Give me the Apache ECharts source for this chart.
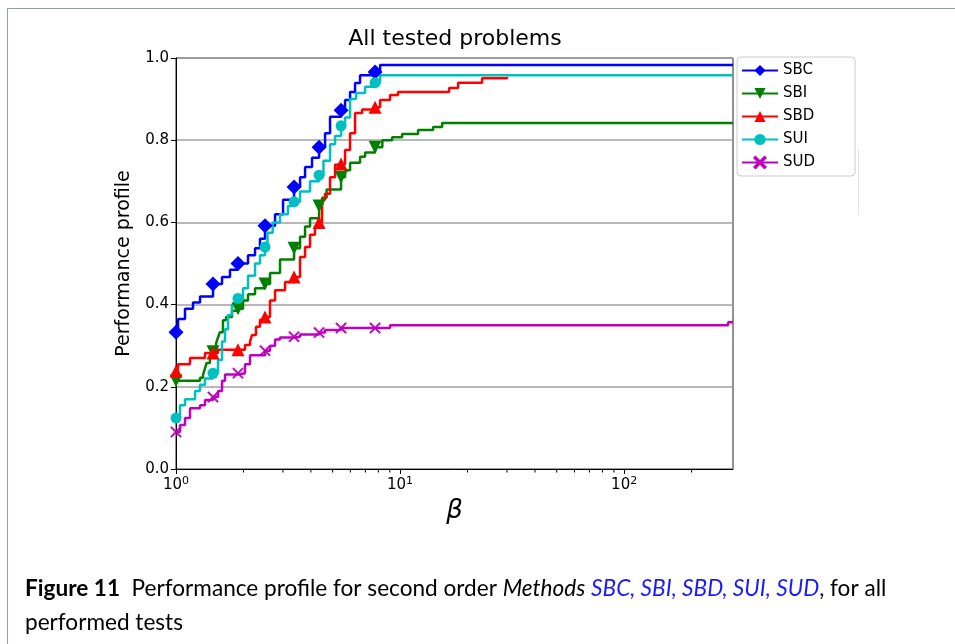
<!DOCTYPE html>
<html>
<head>
<meta charset="utf-8">
<script src="https://cdn.jsdelivr.net/npm/echarts@6/dist/echarts.min.js"></script>
<style>
  html, body { margin: 0; padding: 0; background: #fff; }
  #chart { width: 955px; height: 644px; }
</style>
</head>
<body>
<div id="chart"></div>
<script>
// performance profile data (beta = ratio, rho = fraction)
const methods = ["SBC", "SBI", "SBD", "SUI", "SUD"];
const colors = ["#0000ff", "#008000", "#ff0000", "#00bfbf", "#bf00bf"];
const xMax = 306;
// beta values where markers sit
const markBeta = [1, 1.463, 1.891, 2.496, 3.364, 4.35, 5.453, 7.734];

const sbcBeta = [1, 1.021, 1.097, 1.191, 1.28, 1.463, 1.605, 1.742, 1.891, 2.096, 2.253, 2.371, 2.496, 2.767, 3.004, 3.364, 3.578, 3.767, 4.047, 4.35, 4.626, 4.87, 5.453, 5.682, 5.982, 6.297, 6.629, 7.734, 8.143, xMax];
const sbcRho  = [0.333, 0.365, 0.39, 0.405, 0.42, 0.45, 0.467, 0.485, 0.5, 0.52, 0.537, 0.56, 0.592, 0.62, 0.655, 0.686, 0.71, 0.735, 0.757, 0.783, 0.817, 0.857, 0.873, 0.898, 0.917, 0.939, 0.958, 0.966, 0.983, 0.983];

const sbiBeta = [1, 1.28, 1.32, 1.347, 1.37, 1.418, 1.463, 1.51, 1.54, 1.57, 1.62, 1.672, 1.778, 1.891, 1.991, 2.096, 2.253, 2.496, 2.628, 2.912, 3.364, 3.578, 3.767, 3.965, 4.35, 4.486, 4.7, 5.453, 5.682, 5.982, 6.629, 6.98, 7.734, 8.333, 9.211, 10.21, 12.03, 14.04, 15.4, xMax];
const sbiRho  = [0.215, 0.222, 0.229, 0.245, 0.258, 0.272, 0.285, 0.306, 0.32, 0.333, 0.362, 0.37, 0.385, 0.39, 0.41, 0.425, 0.44, 0.45, 0.477, 0.51, 0.537, 0.565, 0.59, 0.61, 0.64, 0.66, 0.68, 0.71, 0.727, 0.745, 0.76, 0.77, 0.783, 0.8, 0.807, 0.815, 0.825, 0.832, 0.842, 0.842];

const sbdBeta = [1, 1.021, 1.155, 1.347, 1.463, 1.54, 1.891, 2.032, 2.14, 2.184, 2.276, 2.371, 2.496, 2.628, 2.767, 3.066, 3.364, 3.578, 3.767, 3.965, 4.17, 4.35, 4.486, 4.626, 4.87, 5.127, 5.453, 5.682, 5.982, 6.297, 6.767, 7.734, 8.143, 9.024, 9.797, 16.55, 18.15, 23.23, 30.04];
const sbdRho  = [0.238, 0.255, 0.27, 0.282, 0.282, 0.29, 0.29, 0.302, 0.31, 0.326, 0.346, 0.363, 0.37, 0.41, 0.435, 0.455, 0.467, 0.516, 0.54, 0.57, 0.59, 0.6, 0.655, 0.67, 0.71, 0.74, 0.742, 0.776, 0.817, 0.866, 0.875, 0.88, 0.898, 0.91, 0.917, 0.927, 0.94, 0.951, 0.954];

const suiBeta = [1, 1.042, 1.097, 1.216, 1.28, 1.347, 1.463, 1.54, 1.605, 1.655, 1.707, 1.778, 1.891, 1.991, 2.096, 2.253, 2.371, 2.496, 2.56, 2.7, 2.912, 3.16, 3.364, 3.578, 3.965, 4.35, 4.55, 4.87, 5.127, 5.453, 5.682, 5.982, 6.362, 6.98, 7.734, 8.143, xMax];
const suiRho  = [0.124, 0.155, 0.17, 0.19, 0.205, 0.22, 0.233, 0.265, 0.31, 0.34, 0.375, 0.4, 0.415, 0.44, 0.47, 0.5, 0.52, 0.54, 0.575, 0.6, 0.62, 0.64, 0.65, 0.675, 0.7, 0.715, 0.75, 0.79, 0.81, 0.835, 0.855, 0.9, 0.915, 0.93, 0.94, 0.958, 0.958];

const sudBeta = [1, 1.042, 1.097, 1.155, 1.28, 1.347, 1.463, 1.54, 1.605, 1.655, 1.891, 2.032, 2.14, 2.496, 2.628, 2.767, 2.912, 3.364, 3.578, 4.35, 4.626, 5.453, 7.734, 9.024, 291, xMax];
const sudRho  = [0.09, 0.107, 0.124, 0.148, 0.155, 0.168, 0.175, 0.19, 0.215, 0.23, 0.233, 0.255, 0.277, 0.288, 0.3, 0.315, 0.32, 0.322, 0.327, 0.332, 0.338, 0.343, 0.343, 0.35, 0.357, 0.357];

const xMinorTicks = [2, 3, 4, 5, 6, 7, 8, 9, 20, 30, 40, 50, 60, 70, 80, 90, 200];

const crossPath = "path://M0,1 L1,0 L5,4 L9,0 L10,1 L6,5 L10,9 L9,10 L5,6 L1,10 L0,9 L4,5 Z";
const symbols = ["diamond", "triangle", "triangle", "circle", crossPath];
const symbolSizes = [15, 13, 13, 11, 11];
const symbolRotates = [0, 180, 0, 0, 0];
const allBeta = [sbcBeta, sbiBeta, sbdBeta, suiBeta, sudBeta];
const allRho = [sbcRho, sbiRho, sbdRho, suiRho, sudRho];

function build(beta, rho) {
  return beta.map((b, i) => {
    const item = { value: [b, rho[i]] };
    if (markBeta.indexOf(b) < 0) item.symbol = "none";
    return item;
  });
}

const chart = echarts.init(document.getElementById("chart"));
const font = "DejaVu Sans";

const series = methods.map((name, k) => ({
  name: name,
  type: "line",
  step: "end",
  data: build(allBeta[k], allRho[k]),
  symbol: symbols[k],
  symbolSize: symbolSizes[k],
  symbolRotate: symbolRotates[k],
  showSymbol: true,
  showAllSymbol: true,
  color: colors[k],
  lineStyle: { width: 2.5, color: colors[k] },
  itemStyle: { color: colors[k], borderColor: colors[k], borderWidth: k === 4 ? 0.5 : 0 },
  emphasis: { disabled: true },
  animation: false
}));

// minor ticks on the log axis
series.push({
  type: "custom",
  name: "minor",
  silent: true,
  animation: false,
  data: xMinorTicks.map(v => [v, 0]),
  encode: { x: 0, y: 1 },
  renderItem: function (params, api) {
    const p = api.coord([api.value(0), 0]);
    return {
      type: "line",
      shape: { x1: p[0], y1: p[1], x2: p[0], y2: p[1] + 3.5 },
      style: { stroke: "#000", lineWidth: 1 }
    };
  }
});

chart.setOption({
  animation: false,
  textStyle: { fontFamily: font },
  grid: {
    left: 176, right: 222, top: 58, bottom: 175,
    show: true, borderColor: "#222", borderWidth: 1
  },
  legend: {
    data: methods,
    orient: "vertical",
    left: 737, top: 57,
    padding: [6, 40, 6, 4],
    itemGap: 8,
    itemWidth: 36, itemHeight: 14,
    borderColor: "#cccccc", borderWidth: 1, borderRadius: 4,
    textStyle: { fontSize: 15, color: "#000", fontFamily: font },
    selectedMode: false
  },
  xAxis: {
    type: "log",
    logBase: 10,
    min: 1, max: xMax,
    name: "β",
    nameLocation: "middle",
    nameGap: 26,
    nameTextStyle: { fontSize: 26, fontStyle: "italic", color: "#000", fontFamily: font },
    axisLine: { lineStyle: { color: "#000" } },
    axisTick: { length: 5, lineStyle: { color: "#000" } },
    splitLine: { show: false },
    axisLabel: {
      margin: 7,
      showMaxLabel: false,
      formatter: function (v) {
        const e = Math.round(Math.log10(v));
        if (Math.abs(Math.log10(v) - e) > 1e-6) return "";
        return "{b|10}{s|" + e + "}";
      },
      rich: {
        b: { fontSize: 15, color: "#000", fontFamily: font },
        s: { fontSize: 11, color: "#000", fontFamily: font, verticalAlign: "top", padding: [0, 0, 8, 0] }
      }
    }
  },
  yAxis: {
    type: "value",
    min: 0, max: 1, interval: 0.2,
    name: "Performance profile",
    nameLocation: "middle",
    nameGap: 42,
    nameTextStyle: { fontSize: 19, color: "#000", fontFamily: font },
    axisLine: { show: true, lineStyle: { color: "#000" } },
    axisTick: { show: true, length: 5, lineStyle: { color: "#000" } },
    axisLabel: {
      margin: 7, fontSize: 15, color: "#000",
      formatter: v => v.toFixed(1)
    },
    splitLine: { show: true, lineStyle: { color: "#a0a0a0", width: 1.5 } }
  },
  graphic: [
    {
      type: "text", x: 455, y: 39, silent: true,
      style: { text: "All tested problems", fontSize: 22, fontFamily: font, fill: "#000", align: "center", verticalAlign: "middle" }
    },
    { type: "line", silent: true, shape: { x1: 7, y1: 8.5, x2: 955, y2: 8.5 }, style: { stroke: "#8d9dba", lineWidth: 1 } },
    { type: "line", silent: true, shape: { x1: 7.5, y1: 8, x2: 7.5, y2: 644 }, style: { stroke: "#8d9dba", lineWidth: 1 } },
    { type: "line", silent: true, shape: { x1: 858.5, y1: 150, x2: 858.5, y2: 215 }, style: { stroke: "#e4e4e4", lineWidth: 1 } },
    {
      type: "text", x: 25, y: 572, silent: true,
      style: {
        text: "{b|Figure 11}  Performance profile for second order {i|Methods} {l|SBC, SBI, SBD, SUI, SUD}, for all\nperformed tests",
        fontSize: 22.6, fontFamily: "Lato", fill: "#000", lineHeight: 34,
        rich: {
          b: { fontSize: 22.6, fontFamily: "Lato", fontWeight: "bold", fill: "#000", lineHeight: 34 },
          i: { fontSize: 22.6, fontFamily: "Lato", fontStyle: "italic", fill: "#000", lineHeight: 34 },
          l: { fontSize: 22.6, fontFamily: "Lato", fontStyle: "italic", fill: "#1a1aff", lineHeight: 34 }
        }
      }
    }
  ],
  series: series
});
</script>
</body>
</html>
